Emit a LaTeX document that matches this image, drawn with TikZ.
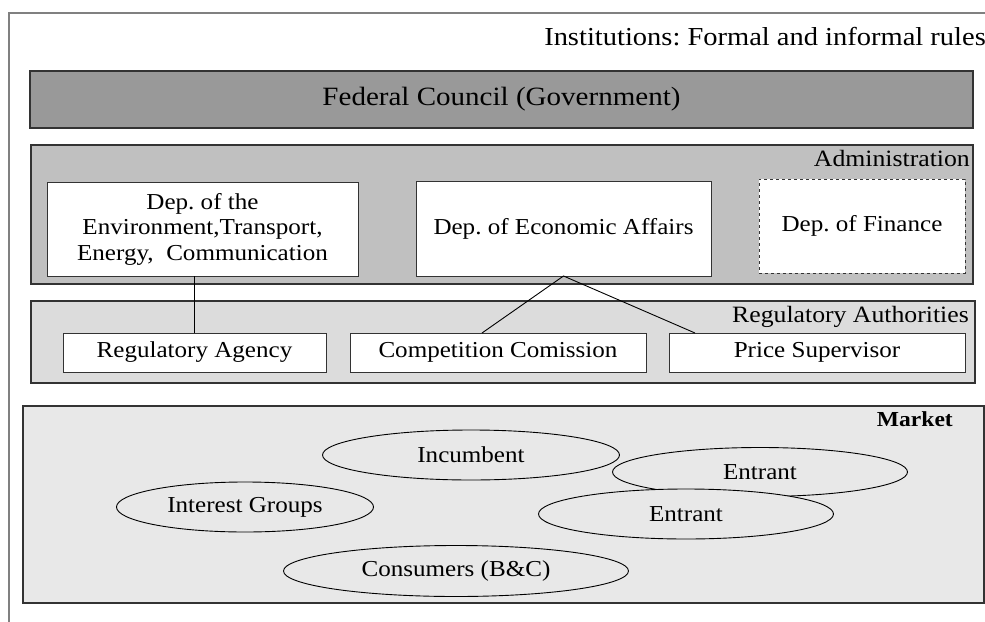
\documentclass[tikz,border=0pt]{standalone}
\usepackage{fontspec}
\setmainfont{Liberation Serif}[FakeStretch=1.1]
\usetikzlibrary{shapes.geometric}
\frenchspacing

\definecolor{fedgray}{HTML}{999999}
\definecolor{admgray}{HTML}{C0C0C0}
\definecolor{reggray}{HTML}{DCDCDC}
\definecolor{mktgray}{HTML}{E8E8E8}
\definecolor{framegray}{HTML}{808080}
\definecolor{edgegray}{HTML}{333333}

\newcommand{\boxfont}{\fontsize{22.8}{25.5}\selectfont}
\newcommand{\labelfont}{\fontsize{23.4}{26}\selectfont}

\tikzset{
  panel/.style={draw=edgegray, line width=1.2pt},
  unitbox/.style={draw=edgegray, fill=white, line width=1pt, inner sep=0pt, outer sep=0pt,
    align=center, font=\boxfont},
  actor/.style={ellipse, draw=black, fill=mktgray, line width=0.9pt, inner sep=0pt,
    outer sep=0pt, font=\boxfont},
  tie/.style={draw=black, line width=0.9pt},
  paneltitle/.style={anchor=base east, inner sep=0pt, font=\labelfont}
}

\begin{document}
\begin{tikzpicture}[x=1pt, y=-1pt]
  \useasboundingbox (0,0) rectangle (985,621);
  \clip (0,0) rectangle (985,621);

  % surrounding frame of the institutional setting
  \draw[framegray, line width=2pt] (1100,13) -- (9,13) -- (9,700);
  \node[anchor=base east, inner sep=0pt, font=\fontsize{25.9}{30}\selectfont]
    (inst) at (986,45) {Institutions: Formal and informal rules};

  % government
  \node[panel, fill=fedgray, minimum width=943pt, minimum height=57pt, inner sep=0pt,
    font=\fontsize{26.4}{30}\selectfont] (fed) at (501.5,99.5) {Federal Council (Government)};

  % administration
  \filldraw[panel, fill=admgray] (31,145) rectangle (973,284);
  \node[paneltitle] (adm) at (970,166) {Administration};
  \node[unitbox, minimum width=311pt, minimum height=94pt] (env) at (202.5,229)
    {Dep. of the\\Environment,Transport,\\Energy,\ \ Communication};
  \node[unitbox, minimum width=295pt, minimum height=95pt] (eco) at (563.5,228.5)
    {Dep. of Economic Affairs};
  \node[unitbox, dashed, minimum width=206pt, minimum height=94pt] (fin) at (862,226)
    {Dep. of Finance};

  % regulatory authorities
  \filldraw[panel, fill=reggray] (31,301) rectangle (975,383);
  \node[paneltitle] (regs) at (969,322) {Regulatory Authorities};
  \node[unitbox, minimum width=263pt, minimum height=39pt] (agency) at (194.5,352.5)
    {Regulatory Agency};
  \node[unitbox, minimum width=296pt, minimum height=39pt] (comp) at (498,352.5)
    {Competition Comission};
  \node[unitbox, minimum width=296pt, minimum height=39pt] (price) at (817,352.5)
    {Price Supervisor};

  % supervision lines
  \draw[tie] (agency.north) -- (agency.north |- env.south);
  \draw[tie] ([xshift=-16pt]comp.north) -- (eco.south) -- ([xshift=-122pt]price.north);

  % market
  \filldraw[panel, fill=mktgray] (23,406) rectangle (984,603);
  \node[anchor=base east, inner sep=0pt, font=\fontsize{21.4}{25}\selectfont\bfseries]
    (mkt) at (953,426) {Market};

  \node[actor, minimum width=297pt, minimum height=50pt] (inc) at (471,455) {Incumbent};
  \node[actor, minimum width=295pt, minimum height=49pt] (ent1) at (760,472) {Entrant};
  \node[actor, minimum width=295pt, minimum height=50pt] (ent2) at (686,514) {Entrant};
  \node[actor, minimum width=257pt, minimum height=50pt] (intg) at (245,507) {Interest Groups};
  \node[actor, minimum width=345pt, minimum height=51pt] (cons) at (456,571) {Consumers (B\&C)};
\end{tikzpicture}
\end{document}
